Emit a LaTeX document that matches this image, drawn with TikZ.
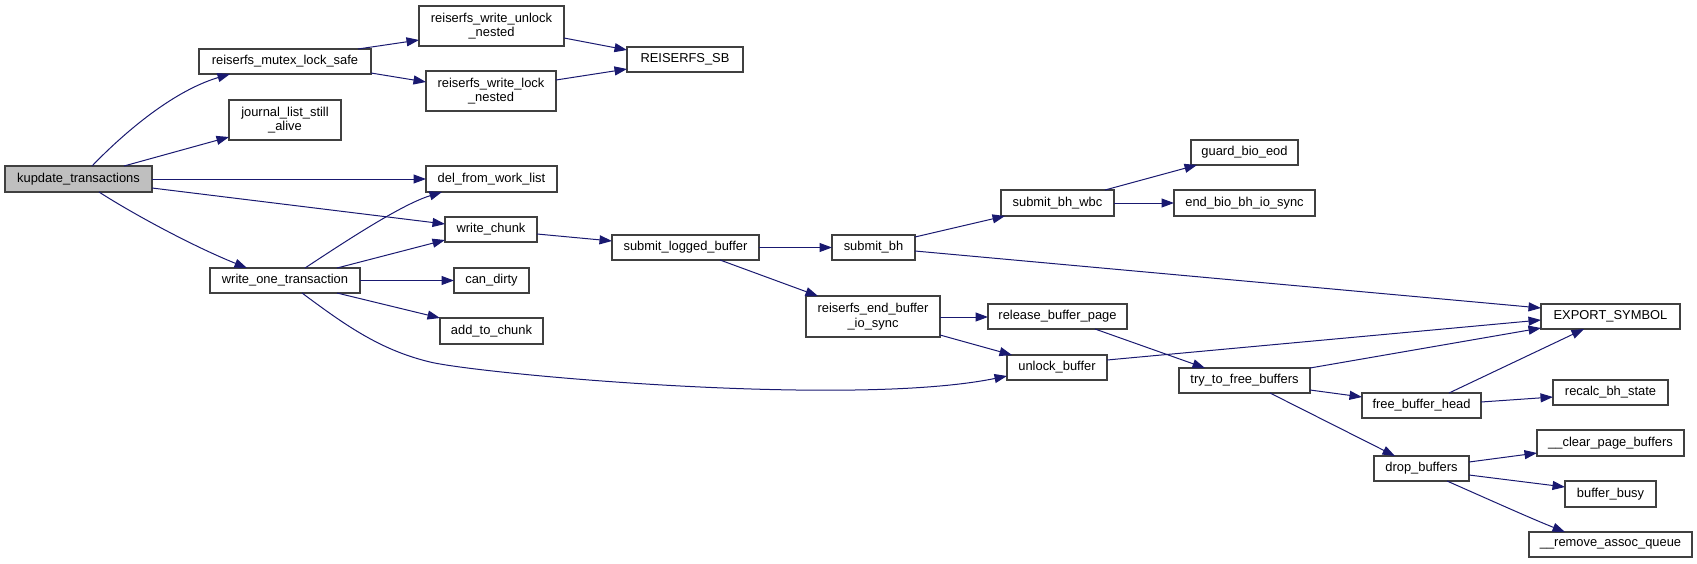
\documentclass[tikz,border=0pt]{standalone}
\usepackage{fontspec}
\setmainfont{Liberation Sans}
\usetikzlibrary{arrows.meta}
\definecolor{edgecol}{HTML}{191970}
\definecolor{boxline}{HTML}{404040}
\definecolor{grayfill}{HTML}{BFBFBF}
\tikzset{
  box/.style={draw=boxline, line width=1.2pt, fill=white, inner sep=0pt, outer sep=0pt,
    align=center, font=\fontsize{12.9}{14.5}\selectfont},
  call/.style={draw=edgecol, line width=1pt, -{Triangle[length=12.5pt,width=9pt]}},
}
\newcommand{\mkbox}[7][]{\node[box,#1,minimum width={(#5)-(#3)},minimum height={(#6)-(#4)}] (#2) at ({((#3)+(#5))/2},{((#4)+(#6))/2}) {#7};}
\begin{document}
\begin{tikzpicture}[x=1pt,y=-1pt]
\useasboundingbox (0,0) rectangle (1697,563);
\mkbox[fill=grayfill]{kup}{5}{166}{152}{192}{kupdate\_transactions}
\mkbox{mutex}{199}{49}{371}{74}{reiserfs\_mutex\_lock\_safe}
\mkbox{jlist}{229}{100}{341}{140}{journal\_list\_still\\\_alive}
\mkbox{wun}{419}{6}{564}{46}{reiserfs\_write\_unlock\\\_nested}
\mkbox{wln}{426}{71}{556}{111}{reiserfs\_write\_lock\\\_nested}
\mkbox{sb}{627}{47}{743}{72}{REISERFS\_SB}
\mkbox{del}{426}{166}{557}{192}{del\_from\_work\_list}
\mkbox{wchunk}{445}{217}{537}{242}{write\_chunk}
\mkbox{wone}{210}{268}{360}{293}{write\_one\_transaction}
\mkbox{candirty}{454}{268}{529}{293}{can\_dirty}
\mkbox{addchunk}{440}{318}{543}{344}{add\_to\_chunk}
\mkbox{slb}{612}{235}{759}{260}{submit\_logged\_buffer}
\mkbox{sbh}{832}{235}{915}{260}{submit\_bh}
\mkbox{rebio}{806}{296}{940}{337}{reiserfs\_end\_buffer\\\_io\_sync}
\mkbox{wbc}{1001}{190}{1114}{216}{submit\_bh\_wbc}
\mkbox{guard}{1191}{140}{1298}{165}{guard\_bio\_eod}
\mkbox{endbio}{1174}{190}{1315}{216}{end\_bio\_bh\_io\_sync}
\mkbox{rbp}{988}{304}{1127}{329}{release\_buffer\_page}
\mkbox{unlock}{1007}{355}{1107}{380}{unlock\_buffer}
\mkbox{ttfb}{1179}{368}{1310}{393}{try\_to\_free\_buffers}
\mkbox{export}{1541}{304}{1680}{329}{EXPORT\_SYMBOL}
\mkbox{fbh}{1362}{393}{1481}{418}{free\_buffer\_head}
\mkbox{recalc}{1553}{380}{1668}{405}{recalc\_bh\_state}
\mkbox{drop}{1374}{456}{1469}{481}{drop\_buffers}
\mkbox{clear}{1537}{430}{1684}{456}{\_\_clear\_page\_buffers}
\mkbox{busy}{1565}{481}{1656}{507}{buffer\_busy}
\mkbox{remove}{1529}{532}{1692}{557}{\_\_remove\_assoc\_queue}

\draw[call] (kup.north -| 92,0) .. controls (120,137) and (170,92) .. (mutex.south -| 230,0);
\draw[call] (kup.north -| 124,0) -- (jlist.west |- 0,137);
\draw[call] (kup) -- (del);
\draw[call] (kup.east |- 0,188) -- (wchunk.west |- 0,224);
\draw[call] (kup.south -| 99,0) .. controls (130,212) and (190,245) .. (wone.north -| 247,0);
\draw[call] (mutex.north -| 358,0) -- (wun.west |- 0,40);
\draw[call] (mutex.east |- 0,73) -- (wln.west |- 0,82);
\draw[call] (wun.east |- 0,38) -- (sb.west |- 0,50);
\draw[call] (wln.east |- 0,80) -- (sb.west |- 0,69);
\draw[call] (wone.north -| 305,0) .. controls (340,245) and (400,205) .. (del.south -| 442,0);
\draw[call] (wone.north -| 337,0) -- (wchunk.west |- 0,240);
\draw[call] (wone) -- (candirty);
\draw[call] (wone.south -| 337,0) -- (addchunk.north west);
\draw[call] (wone.south -| 302,0) .. controls (345,325) and (380,350) .. (430,362)
  .. controls (480,374) and (850,408) .. (unlock.west |- 0,376);
\draw[call] (wchunk.east |- 0,234) -- (slb.west |- 0,241);
\draw[call] (slb) -- (sbh);
\draw[call] (slb.south -| 720,0) -- (rebio.north -| 818,0);
\draw[call] (sbh.east |- 0,237) -- (wbc.south -| 1005,0);
\draw[call] (sbh.east |- 0,251) -- (export.west |- 0,308);
\draw[call] (wbc.north -| 1105,0) -- (guard.south -| 1197,0);
\draw[call] (wbc) -- (endbio);
\draw[call] (rebio.east |- 0,317) -- (rbp.west |- 0,317);
\draw[call] (rebio.east |- 0,335) -- (unlock.north -| 1012,0);
\draw[call] (rbp.south -| 1095,0) -- (ttfb.north -| 1205,0);
\draw[call] (unlock.east |- 0,360) -- (export.west |- 0,320);
\draw[call] (ttfb.north east) -- (export.west |- 0,328);
\draw[call] (ttfb.east |- 0,390) -- (fbh.west |- 0,397);
\draw[call] (ttfb.south -| 1270,0) -- (drop.north -| 1395,0);
\draw[call] (fbh.north -| 1449,0) -- (export.south -| 1584,0);
\draw[call] (fbh.east |- 0,402) -- (recalc.west |- 0,397);
\draw[call] (drop.east |- 0,462) -- (clear.west |- 0,453);
\draw[call] (drop.east |- 0,475) -- (busy.west |- 0,487);
\draw[call] (drop.south -| 1447,0) .. controls (1490,500) and (1530,518) .. (remove.north -| 1565,0);
\end{tikzpicture}
\end{document}
